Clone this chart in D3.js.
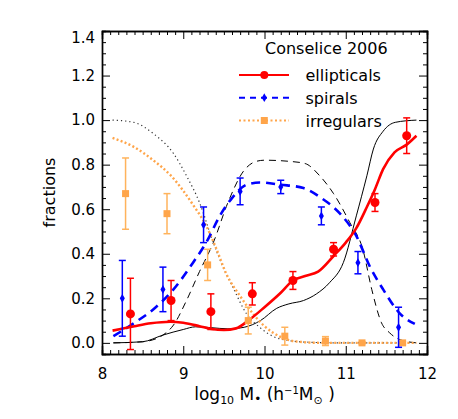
<!DOCTYPE html>
<html>
<head>
<meta charset="utf-8">
<script src="https://cdn.jsdelivr.net/npm/d3@7"></script>
<style>
  body { margin: 0; background: #fff; }
  text { font-family: "DejaVu Sans", sans-serif; fill: #000; }
</style>
</head>
<body>
<div id="chart"></div>
<script>
// measured points (Conselice 2006)
const ellMass = [8.35, 8.85, 9.34, 9.85, 10.35, 10.85, 11.36, 11.75],
	ellFrac = [0.13, 0.19, 0.14, 0.22, 0.28, 0.42, 0.63, 0.93],
	ellErr = [0.16, 0.09, 0.08, 0.05, 0.04, 0.03, 0.04, 0.08];

const spiMass = [8.25, 8.75, 9.25, 9.70, 10.20, 10.70, 11.15, 11.65],
	spiFrac = [0.20, 0.24, 0.53, 0.68, 0.70, 0.57, 0.36, 0.07],
	spiErr = [0.17, 0.10, 0.08, 0.06, 0.03, 0.04, 0.05, 0.09];

const irrMass = [8.29, 8.80, 9.30, 9.80, 10.25, 10.75, 11.20, 11.70],
	irrFrac = [0.67, 0.58, 0.35, 0.10, 0.03, 0.008, 0.0, 0.0],
	irrErr = [0.16, 0.09, 0.07, 0.06, 0.04, 0.02, 0.005, 0.005];

// model curves, coloured (thick) ones
const ellModelX = [8.13, 8.4, 8.6, 8.84, 9.0, 9.2, 9.35, 9.5, 9.65, 9.8, 10.0, 10.2, 10.35, 10.5, 10.66, 10.85, 11.0, 11.13, 11.26, 11.36, 11.46, 11.6, 11.75, 11.87],
	ellModelY = [0.055, 0.075, 0.088, 0.095, 0.09, 0.075, 0.062, 0.058, 0.065, 0.10, 0.16, 0.225, 0.28, 0.30, 0.32, 0.39, 0.45, 0.515, 0.61, 0.69, 0.78, 0.855, 0.89, 0.93];

const spiModelX = [8.14, 8.4, 8.63, 8.88, 9.12, 9.29, 9.45, 9.6, 9.78, 9.94, 10.2, 10.48, 10.7, 10.93, 11.13, 11.3, 11.46, 11.67, 11.85],
	spiModelY = [0.03, 0.09, 0.15, 0.24, 0.36, 0.455, 0.57, 0.65, 0.71, 0.72, 0.71, 0.695, 0.65, 0.58, 0.48, 0.34, 0.24, 0.13, 0.085];

const irrModelX = [8.13, 8.39, 8.63, 8.85, 9.12, 9.29, 9.41, 9.53, 9.7, 9.86, 10.0, 10.19, 10.39, 10.7, 11.87],
	irrModelY = [0.92, 0.88, 0.82, 0.75, 0.62, 0.52, 0.42, 0.31, 0.21, 0.13, 0.075, 0.028, 0.006, 0.0, 0.0];

// second set of model curves, thin black
const ellAltX = [8.14, 8.5, 8.75, 9.0, 9.15, 9.35, 9.55, 9.75, 9.95, 10.15, 10.3, 10.48, 10.64, 10.8, 10.97, 11.13, 11.26, 11.34, 11.46, 11.61, 11.87],
	ellAltY = [0.0, 0.005, 0.035, 0.06, 0.072, 0.068, 0.063, 0.07, 0.10, 0.155, 0.175, 0.19, 0.22, 0.27, 0.36, 0.57, 0.75, 0.87, 0.95, 0.99, 1.0];

const spiAltX = [8.14, 8.5, 8.75, 8.88, 9.04, 9.2, 9.37, 9.55, 9.74, 9.9, 10.0, 10.3, 10.5, 10.68, 10.85, 11.05, 11.21, 11.32, 11.44, 11.54, 11.67, 11.87],
	spiAltY = [0.0, 0.005, 0.035, 0.08, 0.19, 0.32, 0.45, 0.63, 0.77, 0.815, 0.82, 0.815, 0.805, 0.75, 0.67, 0.54, 0.42, 0.24, 0.09, 0.045, 0.014, 0.0];

const irrAltX = [8.13, 8.39, 8.63, 8.88, 9.04, 9.2, 9.37, 9.49, 9.61, 9.78, 9.94, 10.1, 10.3, 10.6, 11.0, 11.87],
	irrAltY = [1.0, 0.99, 0.94, 0.85, 0.75, 0.63, 0.45, 0.34, 0.25, 0.13, 0.07, 0.03, 0.01, 0.002, 0.0, 0.0];

const xTicks = [8, 9, 10, 11, 12],
	yTicks = [0.0, 0.2, 0.4, 0.6, 0.8, 1.0, 1.2, 1.4];

const legendTitle = 'Conselice 2006',
	legendNames = ['ellipticals', 'spirals', 'irregulars'];

const red = '#ff0000',
	blue = '#0000ff',
	orange = '#ffa54a';

const width = 458,
	height = 419,
	margin = {top: 31, right: 31, bottom: 65, left: 102};

const svg = d3.select('#chart').append('svg')
	.attr('width', width)
	.attr('height', height);

const x = d3.scaleLinear().domain([8, 12]).range([margin.left, width - margin.right]);
const y = d3.scaleLinear().domain([-0.05, 1.4]).range([height - margin.bottom, margin.top]);

const zip = (xs, ys) => xs.map((v, i) => [v, ys[i]]);

const line = d3.line()
	.x(d => x(d[0]))
	.y(d => y(d[1]))
	.curve(d3.curveMonotoneX);

const plot = svg.append('g');

// thin black curves
plot.append('path').attr('d', line(zip(ellAltX, ellAltY)))
	.attr('fill', 'none').attr('stroke', '#000').attr('stroke-width', 1);
plot.append('path').attr('d', line(zip(spiAltX, spiAltY)))
	.attr('fill', 'none').attr('stroke', '#000').attr('stroke-width', 1)
	.attr('stroke-dasharray', '7,5');
plot.append('path').attr('d', line(zip(irrAltX, irrAltY)))
	.attr('fill', 'none').attr('stroke', '#333').attr('stroke-width', 1.2)
	.attr('stroke-dasharray', '1.2,3');

// coloured curves
plot.append('path').attr('d', line(zip(irrModelX, irrModelY)))
	.attr('fill', 'none').attr('stroke', orange).attr('stroke-width', 2.4)
	.attr('stroke-dasharray', '2,2.3');
plot.append('path').attr('d', line(zip(spiModelX, spiModelY)))
	.attr('fill', 'none').attr('stroke', blue).attr('stroke-width', 2.6)
	.attr('stroke-dasharray', '9,6');
plot.append('path').attr('d', line(zip(ellModelX, ellModelY)))
	.attr('fill', 'none').attr('stroke', red).attr('stroke-width', 2.6);

// error bars + symbols
function errorBars(xs, ys, es, color){
	const g = plot.append('g').attr('stroke', color).attr('stroke-width', 1.5);
	const pts = xs.map((v, i) => ({x: v, y: ys[i], e: es[i]}));
	g.selectAll('.bar').data(pts).enter().append('line')
		.attr('x1', d => x(d.x)).attr('x2', d => x(d.x))
		.attr('y1', d => y(d.y - d.e)).attr('y2', d => y(d.y + d.e));
	g.selectAll('.capHi').data(pts).enter().append('line')
		.attr('x1', d => x(d.x) - 3.5).attr('x2', d => x(d.x) + 3.5)
		.attr('y1', d => y(d.y + d.e)).attr('y2', d => y(d.y + d.e));
	g.selectAll('.capLo').data(pts).enter().append('line')
		.attr('x1', d => x(d.x) - 3.5).attr('x2', d => x(d.x) + 3.5)
		.attr('y1', d => y(d.y - d.e)).attr('y2', d => y(d.y - d.e));
	return pts;
}

const irrPts = errorBars(irrMass, irrFrac, irrErr, '#ffb35c');
plot.selectAll('.irr').data(irrPts).enter().append('rect')
	.attr('x', d => x(d.x) - 3.5).attr('y', d => y(d.y) - 3.5)
	.attr('width', 7).attr('height', 7).attr('fill', orange);

const spiPts = errorBars(spiMass, spiFrac, spiErr, blue);
plot.selectAll('.spi').data(spiPts).enter().append('path')
	.attr('d', d3.symbol(d3.symbolDiamond, 22))
	.attr('transform', d => `translate(${x(d.x)},${y(d.y)})`)
	.attr('fill', blue);

const ellPts = errorBars(ellMass, ellFrac, ellErr, red);
plot.selectAll('.ell').data(ellPts).enter().append('circle')
	.attr('cx', d => x(d.x)).attr('cy', d => y(d.y)).attr('r', 4.5)
	.attr('fill', red);

// axes: major + minor ticks on all four sides, pointing inward
const xMinor = d3.range(80, 121).map(v => v / 10).filter(v => !xTicks.includes(v));
const yMinor = d3.range(0, 29).map(v => v / 20).filter(v => !yTicks.some(t => Math.abs(t - v) < 1e-9));

function styleAxis(g){
	g.selectAll('.domain').attr('stroke', '#000').attr('stroke-width', 1.4);
	g.selectAll('.tick line').attr('stroke', '#000').attr('stroke-width', 1);
	g.selectAll('.tick text').style('font-size', '15px').style('font-family', '"DejaVu Sans", sans-serif');
}

const bottom = svg.append('g')
	.attr('transform', `translate(0,${height - margin.bottom})`)
	.call(d3.axisBottom(x).tickValues(xTicks).tickSize(-8).tickPadding(14).tickFormat(d3.format('d')))
	.call(styleAxis);
svg.append('g')
	.attr('transform', `translate(0,${height - margin.bottom})`)
	.call(d3.axisBottom(x).tickValues(xMinor).tickSize(-4).tickFormat(''))
	.call(styleAxis);
svg.append('g')
	.attr('transform', `translate(0,${margin.top})`)
	.call(d3.axisTop(x).tickValues(xTicks).tickSize(-8).tickFormat(''))
	.call(styleAxis);
svg.append('g')
	.attr('transform', `translate(0,${margin.top})`)
	.call(d3.axisTop(x).tickValues(xMinor).tickSize(-4).tickFormat(''))
	.call(styleAxis);

const left = svg.append('g')
	.attr('transform', `translate(${margin.left},0)`)
	.call(d3.axisLeft(y).tickValues(yTicks).tickSize(-8).tickPadding(7).tickFormat(d3.format('.1f')))
	.call(styleAxis);
svg.append('g')
	.attr('transform', `translate(${margin.left},0)`)
	.call(d3.axisLeft(y).tickValues(yMinor).tickSize(-4).tickFormat(''))
	.call(styleAxis);
svg.append('g')
	.attr('transform', `translate(${width - margin.right},0)`)
	.call(d3.axisRight(y).tickValues(yTicks).tickSize(-8).tickFormat(''))
	.call(styleAxis);
svg.append('g')
	.attr('transform', `translate(${width - margin.right},0)`)
	.call(d3.axisRight(y).tickValues(yMinor).tickSize(-4).tickFormat(''))
	.call(styleAxis);

// top label sits a bit below its tick, as in the original
left.selectAll('.tick text').filter(d => d === 1.4).attr('dy', '0.75em');

// axis titles
svg.append('text')
	.attr('transform', `translate(55,${(margin.top + height - margin.bottom) / 2}) rotate(-90)`)
	.attr('text-anchor', 'middle')
	.style('font-size', '16px')
	.text('fractions');

const xt = svg.append('text')
	.attr('x', (margin.left + width - margin.right) / 2)
	.attr('y', 400)
	.attr('text-anchor', 'middle')
	.style('font-size', '17px');
xt.append('tspan').text('log');
xt.append('tspan').attr('dy', 4).style('font-size', '11px').text('10');
xt.append('tspan').attr('dy', -4).text(' M');
xt.append('tspan').attr('dy', 3).style('font-size', '12px').text('\u2022');
xt.append('tspan').attr('dy', -3).text(' (h');
xt.append('tspan').attr('dy', -6).style('font-size', '10px').text('\u22121');
xt.append('tspan').attr('dy', 6).text('M');
xt.append('tspan').attr('dy', 4).style('font-size', '11px').text('\u2299');
xt.append('tspan').attr('dy', -4).text(' )');

// legend
const legend = svg.append('g');
legend.append('text').attr('x', 265).attr('y', 54).style('font-size', '16px').text(legendTitle);

const legendY = [75, 97.7, 120.5],
	legendColors = [red, blue, orange],
	legendDash = [null, '6,5', '2,2.5'];

legendNames.forEach((name, i) => {
	legend.append('line')
		.attr('x1', 239).attr('x2', 289)
		.attr('y1', legendY[i]).attr('y2', legendY[i])
		.attr('stroke', legendColors[i]).attr('stroke-width', i === 2 ? 1.8 : 2)
		.attr('stroke-dasharray', legendDash[i]);
	legend.append('text').attr('x', 305.5).attr('y', legendY[i] + 6)
		.style('font-size', '16px').text(name);
});
legend.append('circle').attr('cx', 264.3).attr('cy', legendY[0]).attr('r', 4).attr('fill', red);
legend.append('path').attr('d', d3.symbol(d3.symbolDiamond, 22))
	.attr('transform', `translate(264.3,${legendY[1]})`).attr('fill', blue);
legend.append('rect').attr('x', 260.8).attr('y', legendY[2] - 3.5)
	.attr('width', 7).attr('height', 7).attr('fill', orange);
</script>
</body>
</html>
